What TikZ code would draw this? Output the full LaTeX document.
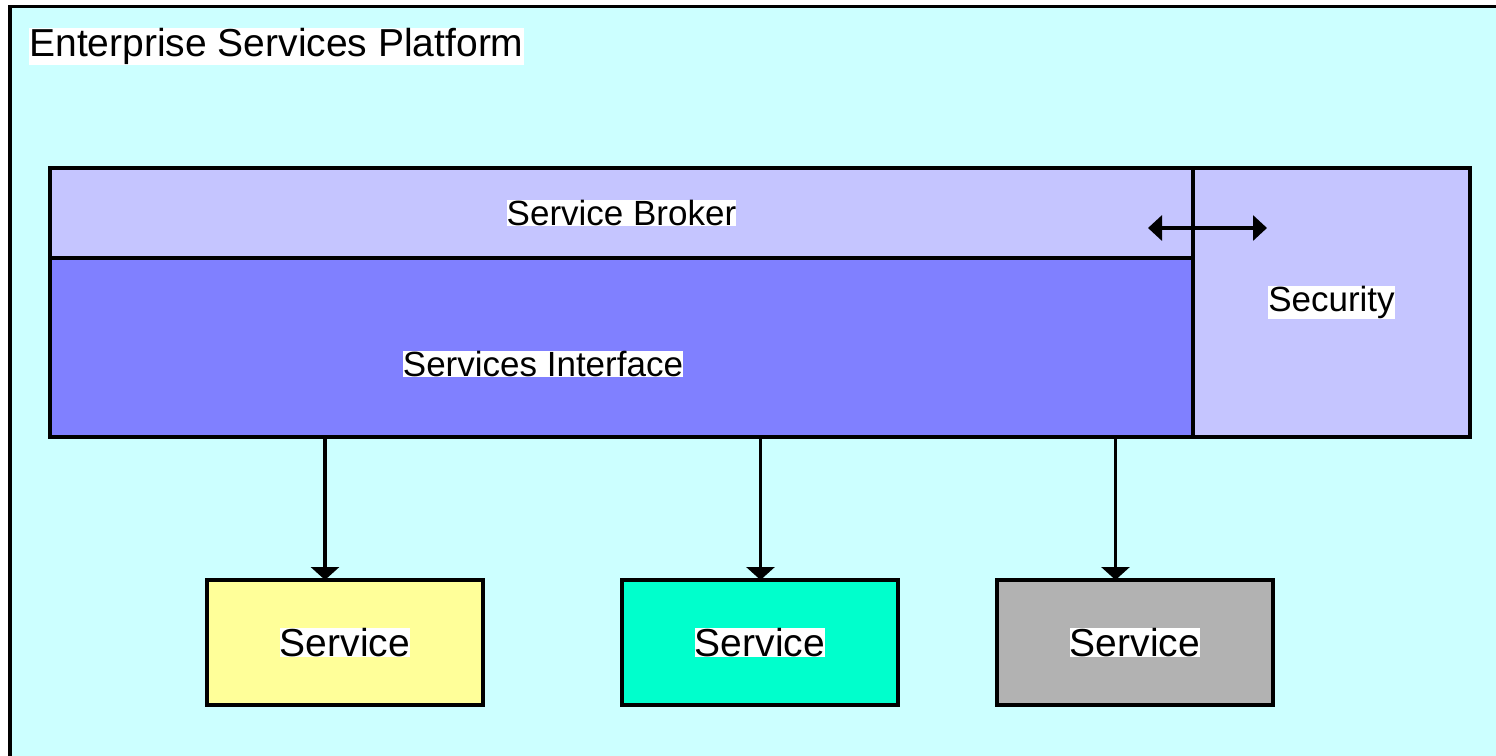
\documentclass[tikz,border=0pt]{standalone}
\usepackage{fontspec}
\setmainfont{Liberation Sans}
\usetikzlibrary{arrows.meta,positioning}
\definecolor{platform}{RGB}{204,255,255}
\definecolor{broker}{RGB}{197,197,255}
\definecolor{iface}{RGB}{128,128,255}
\definecolor{svcyellow}{RGB}{255,255,153}
\definecolor{svcgreen}{RGB}{0,255,204}
\definecolor{svcgray}{RGB}{178,178,178}
\newcommand{\hl}[1]{{\setlength{\fboxsep}{0pt}\colorbox{white}{#1}}}
\tikzstyle{layer} = [rectangle, draw, line width=1.6pt, inner sep=0pt, outer sep=0pt,
    anchor=north west, font=\fontsize{17.5}{21}\selectfont]
\tikzstyle{service} = [layer, minimum width=138pt, minimum height=62.5pt,
    font=\fontsize{19.5}{23}\selectfont]
\tikzstyle{tag} = [fill=white, inner sep=0pt]
\tikzstyle{flow} = [line width=1.6pt, -{Triangle[width=14pt,length=6.5pt]}]
\tikzstyle{both} = [line width=1.6pt, {Triangle[width=12.5pt,length=7pt]}-{Triangle[width=12.5pt,length=7pt]}]

\begin{document}
\begin{tikzpicture}[x=0.5pt,y=-0.5pt]
  \useasboundingbox (0,0) rectangle (1496,756);
  % Platform frame
  \begin{scope}
    \clip (0,0) rectangle (1496,756);
    \draw[line width=1.6pt, fill=platform] (10,6.5) rectangle (1530,790);
  \end{scope}
  \node [tag, anchor=north west, font=\fontsize{19.5}{23}\selectfont] (title) at (29,28)
  {Enterprise Services Platform};
  % Place layers
  \node [layer, fill=broker, minimum width=571.5pt, minimum height=45pt] (broker) at (50,168)
  {\hl{Service Broker}};
  \node [layer, fill=iface, minimum width=571.5pt, minimum height=89.5pt] (iface) at (50,258) {};
  \node [tag, font=\fontsize{17.5}{21}\selectfont] (ifacetext) at (543,364) {Services Interface};
  \node [layer, fill=broker, minimum width=138.5pt, minimum height=134.5pt] (security) at (1193,168)
  {\hl{Security}};
  % Place services
  \node [service, fill=svcyellow] (svcA) at (207,580) {\hl{Service}};
  \node [service, fill=svcgreen] (svcB) at (622,580) {\hl{Service}};
  \node [service, fill=svcgray] (svcC) at (997,580) {\hl{Service}};
  % Draw edges
  \coordinate (brokerend) at (1148,228);
  \coordinate (securityend) at (1267,228);
  \draw [both] (brokerend) -- (securityend);
  \draw [flow] ([xshift=-10pt]svcA.north |- iface.south) -- ([xshift=-10pt]svcA.north);
  \draw [flow] ([xshift=0.25pt]svcB.north |- iface.south) -- ([xshift=0.25pt]svcB.north);
  \draw [flow] ([xshift=-9.75pt]svcC.north |- iface.south) -- ([xshift=-9.75pt]svcC.north);
\end{tikzpicture}
\end{document}
